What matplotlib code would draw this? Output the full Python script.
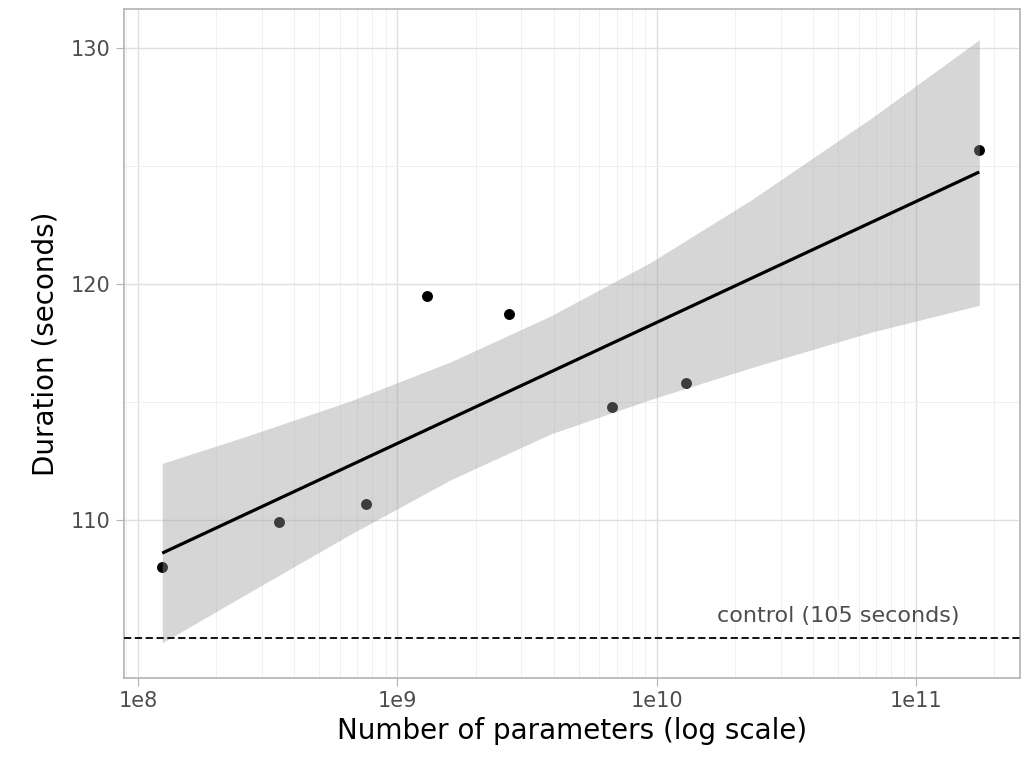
import numpy as np
import matplotlib.pyplot as plt
from matplotlib.ticker import LogLocator, FixedLocator

# data
params = [1.24e8, 3.5e8, 7.6e8, 1.30e9, 2.70e9, 6.7e9, 1.30e10, 1.75e11]
duration = [108.0, 109.9, 110.7, 119.5, 118.75, 114.8, 115.8, 125.7]
# smoothing band (lm fit, 95% CI)
band_x = [1.24e8, 2.7e8, 6.6e8, 1.6e9, 3.9e9, 9.4e9, 2.3e10, 6.65e10, 1.75e11]
band_low = [104.8, 106.95, 109.4, 111.7, 113.65, 115.1, 116.45, 117.95, 119.1]
band_high = [112.4, 113.6, 115.05, 116.7, 118.65, 120.9, 123.55, 127.0, 130.35]
fit_ends = [108.6, 124.75]
control = 105
x_ticks = [1e8, 1e9, 1e10, 1e11]
x_labels = ["1e8", "1e9", "1e10", "1e11"]
y_ticks = [110, 120, 130]

fig = plt.figure(figsize=(10.29, 7.62), dpi=100)
ax = fig.add_axes([0.1205, 0.110, 0.871, 0.878])

ax.scatter(params, duration, s=62, color="black", zorder=3, linewidths=0)
ax.fill_between(band_x, band_low, band_high,
                color="#999999", alpha=0.4, linewidth=0, zorder=4)
ax.plot([params[0], params[-1]], fit_ends, color="black", lw=2.3,
        solid_capstyle="butt", zorder=5)
ax.axhline(control, color="black", ls=(0, (4, 2)), lw=1.3, zorder=5)
ax.text(10**10.70, 105.5, "control (105 seconds)", ha="center", va="bottom",
        fontsize=16, color="#4d4d4d")

ax.set_xscale("log")
ax.set_xlim(10**7.946, 10**11.401)
ax.set_ylim(103.3, 131.65)
ax.xaxis.set_major_locator(FixedLocator(x_ticks))
ax.set_xticklabels(x_labels)
ax.xaxis.set_minor_locator(LogLocator(base=10, subs=np.arange(2, 10)))
ax.xaxis.set_minor_formatter(plt.NullFormatter())
ax.set_yticks(y_ticks)
ax.yaxis.set_minor_locator(FixedLocator([105, 115, 125]))

ax.grid(which="major", color="#e0e0e0", lw=1.0, zorder=0)
ax.grid(which="minor", color="#f0f0f0", lw=0.7, zorder=0)
ax.set_axisbelow(True)
for sp in ax.spines.values():
    sp.set_color("#b3b3b3")
    sp.set_linewidth(1.2)
ax.tick_params(which="major", length=5.5, color="#b3b3b3", labelsize=15,
               labelcolor="#4d4d4d", pad=4)
ax.tick_params(which="minor", length=0)

ax.set_xlabel("Number of parameters (log scale)", fontsize=20, labelpad=4)
ax.set_ylabel("Duration (seconds)", fontsize=20, labelpad=8)

fig.savefig("out.png", dpi=100)
